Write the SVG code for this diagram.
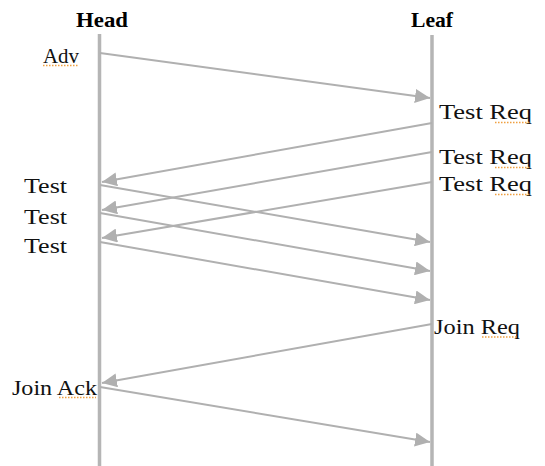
<svg xmlns="http://www.w3.org/2000/svg" width="545" height="466" viewBox="0 0 545 466">
<style>
.life{stroke:#b5b5b5;stroke-width:3.5;fill:none}
.msg{stroke:#b0b0b0;stroke-width:2;fill:none;marker-end:url(#ah)}
.hd{font-family:"Liberation Serif",serif;font-weight:bold;font-size:22px;fill:#000}
.lb{font-family:"Liberation Serif",serif;font-size:22px;fill:#111}
.sq{stroke:#f0a040;stroke-width:1.5;stroke-dasharray:1.5 1.5;fill:none}
</style>
<defs>
<marker id="ah" markerUnits="userSpaceOnUse" markerWidth="16" markerHeight="14" refX="15" refY="7" orient="auto">
<path d="M0,0 L15,7 L0,14 z" fill="#b0b0b0"/>
</marker>
</defs>
<g id="head">
<line class="life" x1="99.5" y1="34" x2="99.5" y2="466"/>
<text class="hd" x="102" y="27" text-anchor="middle" textLength="52" lengthAdjust="spacingAndGlyphs">Head</text>
</g>
<g id="leaf">
<line class="life" x1="432" y1="35" x2="432" y2="466"/>
<text class="hd" x="432" y="27" text-anchor="middle" textLength="42" lengthAdjust="spacingAndGlyphs">Leaf</text>
</g>
<g id="labels">
<text class="lb" x="43" y="63" textLength="36" lengthAdjust="spacingAndGlyphs">Adv</text>
<text class="lb" x="439" y="119" textLength="93" lengthAdjust="spacingAndGlyphs">Test Req</text>
<text class="lb" x="439" y="164" textLength="93" lengthAdjust="spacingAndGlyphs">Test Req</text>
<text class="lb" x="439" y="191" textLength="93" lengthAdjust="spacingAndGlyphs">Test Req</text>
<text class="lb" x="24" y="193" textLength="43" lengthAdjust="spacingAndGlyphs">Test</text>
<text class="lb" x="24" y="224" textLength="43" lengthAdjust="spacingAndGlyphs">Test</text>
<text class="lb" x="24" y="253" textLength="43" lengthAdjust="spacingAndGlyphs">Test</text>
<text class="lb" x="434" y="334" textLength="86" lengthAdjust="spacingAndGlyphs">Join Req</text>
<text class="lb" x="12" y="395" textLength="85" lengthAdjust="spacingAndGlyphs">Join Ack</text>
<path class="sq" d="M43,65.5H78 M495,122.5H531 M495,167.5H531 M495,194.5H531 M482,337H518 M59,397.5H96"/>
</g>
<g id="connectors">
<line class="msg" x1="100" y1="53" x2="430" y2="98"/>
<line class="msg" x1="432" y1="123" x2="102" y2="182"/>
<line class="msg" x1="432" y1="152" x2="102" y2="210"/>
<line class="msg" x1="432" y1="182" x2="102" y2="238"/>
<line class="msg" x1="100" y1="185" x2="430" y2="242"/>
<line class="msg" x1="100" y1="213" x2="430" y2="271"/>
<line class="msg" x1="100" y1="242" x2="430" y2="300"/>
<line class="msg" x1="432" y1="324" x2="102" y2="383"/>
<line class="msg" x1="100" y1="387" x2="430" y2="442"/>
</g>
</svg>
